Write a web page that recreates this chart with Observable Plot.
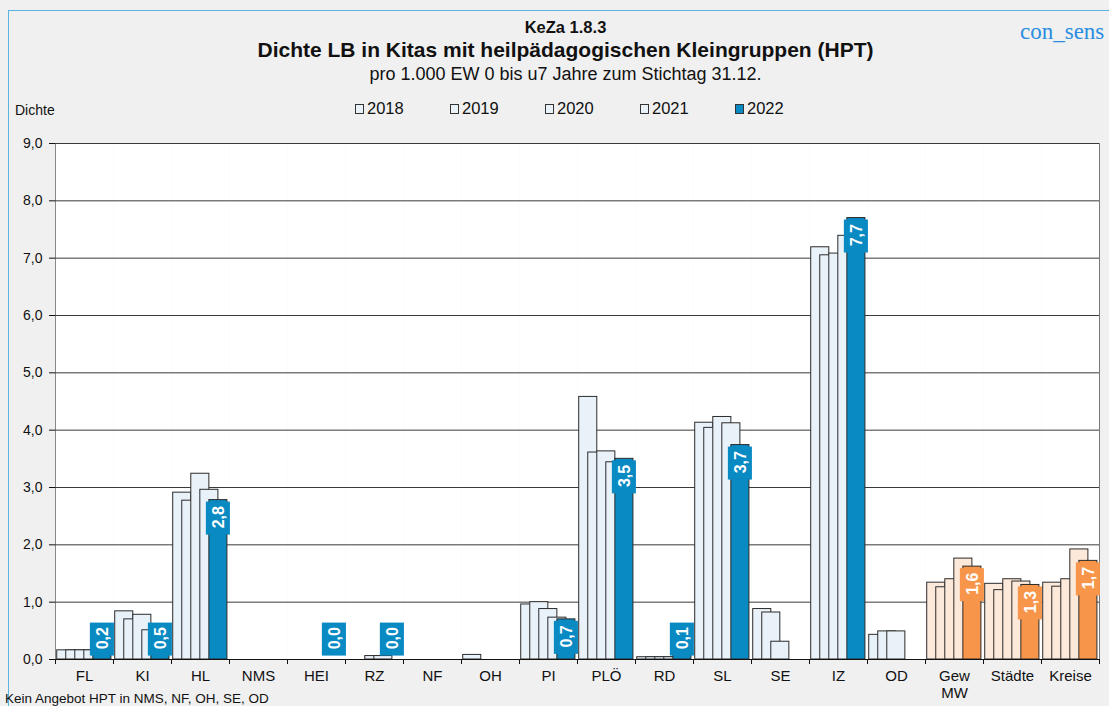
<!DOCTYPE html>
<html>
<head>
<meta charset="utf-8">
<script src="https://cdn.jsdelivr.net/npm/d3@7"></script>
<script src="https://cdn.jsdelivr.net/npm/@observablehq/plot@0.6"></script>
<style>
  html, body { margin: 0; padding: 0; background: #f0f0f0; }
  #wrap { position: relative; width: 1109px; height: 706px; background: #f0f0f0; overflow: hidden;
          font-family: "Liberation Sans", Arial, sans-serif; color: #111; }
  #border { position: absolute; left: 8px; top: 10px; width: 1200px; height: 800px;
            border-left: 1.5px solid #5ab4e0; border-top: 1.5px solid #5ab4e0; }
  .t { position: absolute; left: 11px; width: 1109px; text-align: center; white-space: nowrap; }
  #kz { top: 18px; font-size: 16.5px; font-weight: bold; }
  #title { top: 38px; font-size: 21px; font-weight: bold; }
  #sub { top: 64px; font-size: 18px; }
  #brand { position: absolute; left: 1020px; top: 19px; font-family: "Liberation Serif", "DejaVu Serif", serif;
           font-size: 23px; color: #2a8de0; white-space: nowrap; }
  #ylab { position: absolute; left: 15px; top: 102px; font-size: 14px; }
  .leg { position: absolute; top: 99px; font-size: 16.5px; display: flex; align-items: center; white-space: nowrap; }
  .leg i { display: inline-block; width: 7px; height: 8px; border: 1px solid #333; margin-right: 3px; }
  #chart { position: absolute; left: 0; top: 130px; }
  #foot { position: absolute; left: 5px; top: 691px; font-size: 13.5px; white-space: nowrap; }
</style>
</head>
<body>
<div id="wrap">
  <div id="border"></div>
  <div class="t" id="kz"></div>
  <div class="t" id="title"></div>
  <div class="t" id="sub"></div>
  <div id="brand"></div>
  <div id="ylab"></div>
  <div id="legend"></div>
  <div id="chart"></div>
  <div id="foot"></div>
</div>
<script>
// ---------- data ----------
const kezaLabel = "KeZa 1.8.3";
const titleText = "Dichte LB in Kitas mit heilpädagogischen Kleingruppen (HPT)";
const subtitleText = "pro 1.000 EW 0 bis u7 Jahre zum Stichtag 31.12.";
const brandText = "con_sens";
const yAxisLabel = "Dichte";
const footnote = "Kein Angebot HPT in NMS, NF, OH, SE, OD";

const cats = ["FL","KI","HL","NMS","HEI","RZ","NF","OH","PI","PLÖ","RD","SL","SE","IZ","OD","Gew MW","Städte","Kreise"];
const catLabels = ["FL","KI","HL","NMS","HEI","RZ","NF","OH","PI","PLÖ","RD","SL","SE","IZ","OD","Gew\nMW","Städte","Kreise"];
const orangeCats = ["Gew MW","Städte","Kreise"];
const years = [2018, 2019, 2020, 2021, 2022];

const v2018 = [0.16, 0.84, 2.91, null, null, null, null, 0.08, 0.96, 4.58, 0.04, 4.13, 0.88, 7.19, 0.43, 1.34, 1.32, 1.34];
const v2019 = [0.16, 0.70, 2.77, null, null, null, null, null, 1.00, 3.61, 0.04, 4.04, 0.82, 7.05, 0.49, 1.26, 1.21, 1.27];
const v2020 = [0.16, 0.78, 3.24, null, null, 0.06, null, null, 0.88, 3.63, 0.04, 4.23, 0.31, 7.08, 0.49, 1.40, 1.40, 1.40];
const v2021 = [0.16, 0.51, 2.96, null, null, 0.06, null, null, 0.73, 3.44, 0.04, 4.12, null, 7.39, null, 1.76, 1.36, 1.92];
const v2022 = [0.18, 0.50, 2.78, null, 0.00, 0.00, null, null, 0.70, 3.50, 0.08, 3.74, null, 7.70, null, 1.62, 1.30, 1.72];
const yTicks = [0,1,2,3,4,5,6,7,8,9];

// ---------- colours ----------
const blueLight = "#eaf2f9", blueDark = "#0a8ac3";
const orangeLight = "#fde9da", orangeDark = "#f7964a";

// ---------- header ----------
document.getElementById("kz").textContent = kezaLabel;
document.getElementById("title").textContent = titleText;
document.getElementById("sub").textContent = subtitleText;
document.getElementById("brand").textContent = brandText;
document.getElementById("ylab").textContent = yAxisLabel;
document.getElementById("foot").textContent = footnote;
const legend = document.getElementById("legend");
years.forEach((yr, i) => {
  const d = document.createElement("div");
  d.className = "leg";
  d.style.left = (355 + i * 95) + "px";
  const sw = document.createElement("i");
  sw.style.background = yr === 2022 ? blueDark : blueLight;
  d.appendChild(sw);
  d.appendChild(document.createTextNode(String(yr)));
  legend.appendChild(d);
});

// ---------- rows ----------
const series = [v2018, v2019, v2020, v2021, v2022];
const rows = [];
years.forEach((yr, yi) => {
  cats.forEach((c, ci) => {
    rows.push({cat: c, label: catLabels[ci], year: yr, yi, v: series[yi][ci], orange: orangeCats.includes(c)});
  });
});
const fillOf = d => d.year === 2022 ? (d.orange ? orangeDark : blueDark) : (d.orange ? orangeLight : blueLight);
const isLabel = d => d.year === 2022 && d.v != null;
const labelTop = d => d.v == null ? null : Math.max(d.v, 0.67);
const fmt = v => v == null ? "" : v.toFixed(1).replace(".", ",");

const plot = Plot.plot({
  width: 1109,
  height: 576,
  marginLeft: 54,
  marginRight: 9,
  marginTop: 13,
  marginBottom: 47,
  style: {background: "transparent", fontFamily: "'Liberation Sans', Arial, sans-serif", fontSize: "14px", color: "#111"},
  facet: {data: rows, x: "cat", label: null},
  fx: {domain: cats, padding: 0, axis: null},
  x: {domain: [-0.19, 6.23], axis: null},
  y: {domain: [0, 9], ticks: yTicks, tickFormat: fmt, tickSize: 6, tickPadding: 7, label: null, line: true},
  color: {type: "identity"},
  marks: [
    Plot.frame({fill: "white", stroke: "none"}),
    Plot.ruleY(yTicks.filter(t => t > 0), {stroke: "#3a3a3a", strokeWidth: 1}),
    Plot.rect(rows, {
      filter: d => d.v != null && d.v > 0,
      x1: d => d.yi, x2: d => d.yi + 2, y1: 0, y2: "v",
      fill: fillOf, stroke: "#2b2b2b", strokeWidth: 1
    }),
    Plot.ruleY([0], {stroke: "#111", strokeWidth: 1}),
    Plot.ruleX([-0.19], {y1: 0, y2: 0, insetBottom: -5, stroke: "#111"}),
    Plot.ruleX(rows, {filter: d => d.cat === cats[cats.length - 1] && d.year === 2018, x: () => 6.23, y1: 0, y2: 9, stroke: "#777"}),
    Plot.ruleX(rows, {filter: d => d.cat === cats[cats.length - 1] && d.year === 2018, x: () => 6.23, y1: 0, y2: 0, insetBottom: -5, stroke: "#111"}),
    Plot.rect(rows, {
      filter: isLabel,
      x1: () => 4, x2: () => 6, y1: labelTop, y2: labelTop,
      insetLeft: -3, insetRight: -3, insetTop: 2, insetBottom: -35,
      fill: fillOf
    }),
    Plot.text(rows, {
      filter: isLabel,
      x: () => 5, y: labelTop, text: d => fmt(d.v),
      rotate: -90, textAnchor: "end", lineAnchor: "middle", dy: 6,
      fill: "white", fontWeight: "bold", fontSize: 16
    }),
    Plot.text(rows, {
      filter: d => d.year === 2018,
      x: () => 3.02, frameAnchor: "bottom", text: "label",
      lineAnchor: "top", dy: 9, fontSize: 15, fill: "#111", lineHeight: 1.15
    })
  ]
});
document.getElementById("chart").appendChild(plot);
</script>
</body>
</html>
